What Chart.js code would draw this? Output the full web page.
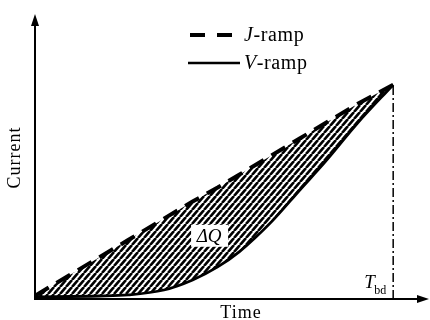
<!DOCTYPE html>
<html><head><meta charset="utf-8">
<script src="https://cdn.jsdelivr.net/npm/chart.js@4"></script>
<style>html,body{margin:0;padding:0;background:#fff}#wrap{width:430px;height:320px}</style>
</head><body><div id="wrap"><canvas id="c" width="430" height="320"></canvas></div>
<script>
// Sample times (arbitrary units, breakdown at 100)
const times = [0, 18, 26, 36, 44, 51, 57, 66, 74, 81, 90, 100];
// Current under constant-current ramp (J-ramp)
const jRamp = [1.5, 19.5, 27.5, 37.5, 45.5, 52, 58, 67, 75, 82, 91, 100];
// Current under voltage ramp (V-ramp)
const vRamp = [1, 1.4, 1.9, 4.2, 8.9, 15, 22, 36, 51, 64, 82, 100];
// Breakdown time
const tBd = 100;
const markerSpan = [0, 100];
const seriesNames = ['J-ramp', 'V-ramp'];
const axisTitles = { x: 'Time', y: 'Current' };

const SERIF = '"Liberation Serif", "DejaVu Serif", serif';

function hatchPattern() {
  const c = document.createElement('canvas');
  c.width = 6; c.height = 7;
  const g = c.getContext('2d');
  g.strokeStyle = '#000';
  g.lineWidth = 2.6;
  for (let k = -1; k <= 1; k++) {
    g.beginPath();
    g.moveTo(k * 6, 7);
    g.lineTo(k * 6 + 6, 0);
    g.stroke();
  }
  return g.createPattern(c, 'repeat');
}

const pts = (xs, ys) => xs.map((x, i) => ({ x, y: ys[i] }));

// Axes, arrows, titles, legend and annotations
const decor = {
  id: 'decor',
  afterDatasetsDraw(chart) {
    const { ctx, scales: { x, y } } = chart;
    const x0 = x.getPixelForValue(0), y0 = y.getPixelForValue(0);
    const xEnd = x.getPixelForValue(x.max), yEnd = y.getPixelForValue(y.max);
    ctx.save();
    ctx.strokeStyle = '#000';
    ctx.fillStyle = '#000';
    ctx.lineWidth = 2;
    ctx.beginPath();
    ctx.moveTo(x0, y0); ctx.lineTo(x0, yEnd + 8);
    ctx.moveTo(x0 - 1, y0); ctx.lineTo(xEnd - 8, y0);
    ctx.stroke();
    // arrowheads
    ctx.beginPath();
    ctx.moveTo(x0, yEnd); ctx.lineTo(x0 - 4, yEnd + 12); ctx.lineTo(x0 + 4, yEnd + 12); ctx.closePath();
    ctx.fill();
    ctx.beginPath();
    ctx.moveTo(xEnd, y0); ctx.lineTo(xEnd - 12, y0 - 4); ctx.lineTo(xEnd - 12, y0 + 4); ctx.closePath();
    ctx.fill();

    // axis titles
    ctx.font = '18px ' + SERIF;
    ctx.textAlign = 'center';
    ctx.textBaseline = 'alphabetic';
    ctx.letterSpacing = '1px';
    ctx.fillText(axisTitles.x, x.getPixelForValue(57.5), 318);
    ctx.save();
    ctx.translate(20, y.getPixelForValue(66));
    ctx.rotate(-Math.PI / 2);
    ctx.fillText(axisTitles.y, 0, 0);
    ctx.restore();
    ctx.letterSpacing = '0px';

    // area label with white backing
    const ax = x.getPixelForValue(48.6), ay = y.getPixelForValue(29.5);
    ctx.fillStyle = '#fff';
    ctx.fillRect(ax - 18, ay - 11, 37, 22);
    ctx.fillStyle = '#000';
    ctx.font = 'italic 19px ' + SERIF;
    ctx.textAlign = 'center';
    ctx.textBaseline = 'middle';
    ctx.fillText('ΔQ', ax, ay + 1);

    // breakdown time label
    const bx = x.getPixelForValue(tBd);
    ctx.textAlign = 'left';
    ctx.textBaseline = 'alphabetic';
    ctx.font = 'italic 19px ' + SERIF;
    ctx.fillText('T', bx - 29, y0 - 11);
    ctx.font = '12px ' + SERIF;
    ctx.fillText('bd', bx - 19, y0 - 5);

    // legend
    const lx = 190;
    ctx.lineWidth = 4;
    ctx.setLineDash([15, 12]);
    ctx.beginPath(); ctx.moveTo(lx, 35); ctx.lineTo(lx + 47, 35); ctx.stroke();
    ctx.setLineDash([]);
    ctx.lineWidth = 2.5;
    ctx.beginPath(); ctx.moveTo(lx - 2, 63); ctx.lineTo(lx + 50, 63); ctx.stroke();
    const legendRows = [[seriesNames[0], 41], [seriesNames[1], 69]];
    ctx.letterSpacing = '0.6px';
    legendRows.forEach(([name, base]) => {
      const [head, ...rest] = name.split('-');
      let tx = lx + 54;
      ctx.font = 'italic 20px ' + SERIF;
      ctx.fillText(head, tx, base);
      tx += ctx.measureText(head).width;
      ctx.font = '20px ' + SERIF;
      ctx.fillText('-' + rest.join('-'), tx, base);
    });
    ctx.restore();
  }
};

new Chart(document.getElementById('c'), {
  type: 'line',
  data: {
    datasets: [
      {
        label: seriesNames[0],
        data: pts(times, jRamp),
        borderColor: '#000',
        borderWidth: 4,
        borderDash: [16, 9],
        pointRadius: 0,
        fill: false,
        tension: 0
      },
      {
        label: seriesNames[1],
        data: pts(times, vRamp),
        borderColor: '#000',
        borderWidth: 2.8,
        pointRadius: 0,
        cubicInterpolationMode: 'monotone',
        fill: { target: 0 },
        backgroundColor: hatchPattern()
      },
      {
        label: 'T_bd',
        data: markerSpan.map(v => ({ x: tBd, y: v })),
        borderColor: '#000',
        borderWidth: 1.5,
        borderDash: [9, 3, 2, 3],
        pointRadius: 0,
        fill: false
      }
    ]
  },
  options: {
    responsive: false,
    devicePixelRatio: 1,
    animation: false,
    layout: { padding: { left: 35, right: 1, top: 14, bottom: 21 } },
    scales: {
      x: { type: 'linear', min: 0, max: 110, display: false },
      y: { type: 'linear', min: 0, max: 133, display: false }
    },
    plugins: { legend: { display: false }, tooltip: { enabled: false } }
  },
  plugins: [decor]
});
</script>
</body></html>
